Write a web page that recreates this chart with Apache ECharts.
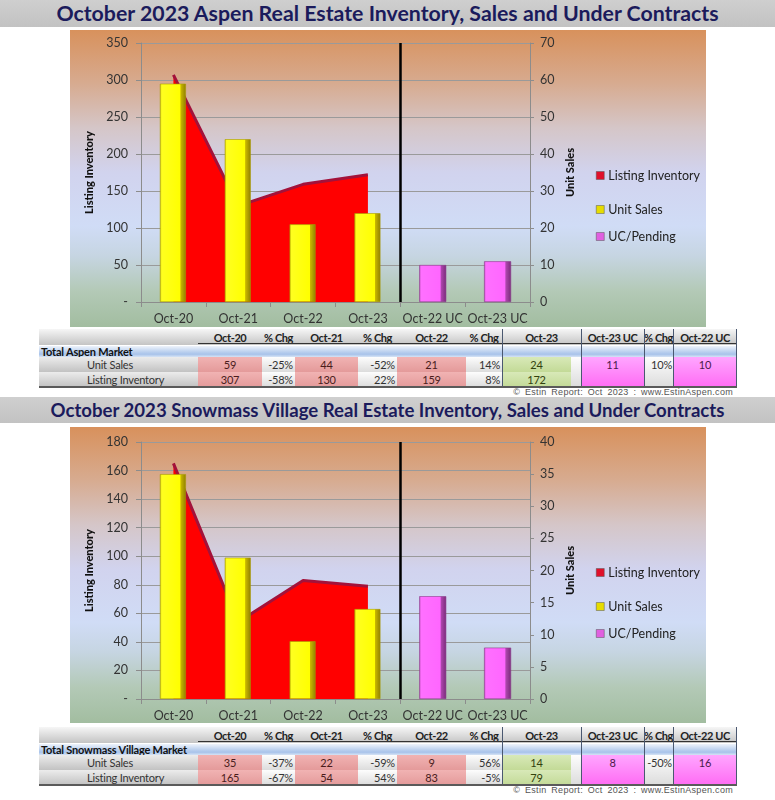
<!DOCTYPE html>
<html><head><meta charset="utf-8">
<script src="https://cdn.jsdelivr.net/npm/echarts/dist/echarts.min.js"></script>
<style>
body{margin:0;background:#fff;width:775px;height:800px;position:relative;overflow:hidden;font-family:Lato,'Open Sans',sans-serif;}
.banner{position:absolute;left:0;width:775px;background:linear-gradient(#cfcfcf,#c2c2c2);color:#1b1b5c;font-weight:bold;text-align:center;white-space:nowrap;}
.chartbox{position:absolute;left:70px;width:636px;background:linear-gradient(to bottom,#d8915c 0%,#d7ab90 18%,#d5c6c8 33%,#d1d3ee 48%,#d0dcf6 66%,#c6d5e2 76%,#b3c9b6 88%,#a2bda0 100%);}
.cell{position:absolute;box-sizing:border-box;font-size:11px;letter-spacing:-0.2px;color:#2a2a2a;line-height:1;display:flex;align-items:center;white-space:nowrap;}
.copy{position:absolute;right:42px;font-size:9px;color:#555;font-family:'Liberation Sans',sans-serif;letter-spacing:0.3px;word-spacing:2px;}
</style></head>
<body>
<div class="banner" style="top:0;height:27px;line-height:27px;font-size:21.3px;">October 2023 Aspen Real Estate Inventory, Sales and Under Contracts</div>
<div id="c1" class="chartbox" style="top:30px;height:297px;"></div>
<div id="t1"></div>
<div class="copy" style="top:387px;">© Estin Report:  Oct  2023 : www.EstinAspen.com</div>
<div class="banner" style="top:397px;height:26px;line-height:27px;font-size:18.6px;">October 2023 Snowmass Village Real Estate Inventory, Sales and Under Contracts</div>
<div id="c2" class="chartbox" style="top:427px;height:296px;"></div>
<div id="t2"></div>
<div class="copy" style="top:785px;">© Estin Report:  Oct  2023 : www.EstinAspen.com</div>
<script>
// ---------- data ----------
const categories = ['Oct-20','Oct-21','Oct-22','Oct-23','Oct-22 UC','Oct-23 UC'];

const aspenInventory = [307,130,159,172,null,null];
const aspenSales     = [59,44,21,24,null,null];
const aspenPending   = [null,null,null,null,10,11];
const aspenSalesChg  = ['-25%','-52%','14%'];
const aspenInvChg    = ['-58%','22%','8%'];
const aspenUcChg     = '10%';

const snowInventory  = [165,54,83,79,null,null];
const snowSales      = [35,22,9,14,null,null];
const snowPending    = [null,null,null,null,16,8];
const snowSalesChg   = ['-37%','-59%','56%'];
const snowInvChg     = ['-67%','54%','-5%'];
const snowUcChg      = '-50%';

const tableHeaders = ['Oct-20','% Chg','Oct-21','% Chg','Oct-22','% Chg','Oct-23','Oct-23 UC','% Chg','Oct-22 UC'];
const aspenAxis = {leftMax:350,leftStep:50,rightMax:70,rightStep:10};
const snowAxis  = {leftMax:180,leftStep:20,rightMax:40,rightStep:5};

// ---------- chart ----------
const yellowGrad = new echarts.graphic.LinearGradient(0,0,1,0,[
  {offset:0,color:'#cfc600'},{offset:0.07,color:'#ffff20'},{offset:0.78,color:'#ffff00'},
  {offset:0.80,color:'#c9b800'},{offset:1,color:'#8f7f00'}]);
const magentaGrad = new echarts.graphic.LinearGradient(0,0,1,0,[
  {offset:0,color:'#c050c0'},{offset:0.07,color:'#ff70ff'},{offset:0.78,color:'#ff66ff'},
  {offset:0.80,color:'#b048b0'},{offset:1,color:'#7a2a7a'}]);
const axCol = '#8c8c8c';
const font = 'Lato';

function makeOption(inv, sales, pend, ax, gridTop, gridBottom){
  const divider = categories.indexOf('Oct-22 UC');
  const legTops = [139,173,200];
  const legNames = [['Listing Inventory','#e0102a'],['Unit Sales','#e6dc00'],['UC/Pending','#e060e0']];
  return {
    animation:false,
    textStyle:{fontFamily:font},
    grid:{left:71,right:176,top:gridTop,bottom:gridBottom,containLabel:false,outerBoundsMode:'none'},
    xAxis:[
      {type:'category',data:categories,boundaryGap:true,
       axisLine:{lineStyle:{color:axCol,width:1}},
       axisTick:{show:true,length:5,lineStyle:{color:axCol}},
       axisLabel:{color:'#333',fontSize:12.5,margin:10,interval:0,fontFamily:font},
       splitLine:{show:false}},
      {type:'value',min:0,max:categories.length,show:false}
    ],
    yAxis:[
      {type:'value',min:0,max:ax.leftMax,interval:ax.leftStep,position:'left',
       name:'Listing Inventory',nameLocation:'middle',nameGap:42,
       nameTextStyle:{fontWeight:900,fontSize:11,color:'#111',fontFamily:font},
       axisLine:{show:true,lineStyle:{color:axCol}},
       axisTick:{show:true,length:5,lineStyle:{color:axCol}},
       axisLabel:{color:'#333',fontSize:12.5,margin:13,fontFamily:font,formatter:v=>v===0?'-':String(v)},
       splitLine:{show:true,lineStyle:{color:'#9a9a9a',width:1}}},
      {type:'value',min:0,max:ax.rightMax,interval:ax.rightStep,position:'right',
       name:'Unit Sales',nameLocation:'middle',nameGap:31,
       nameTextStyle:{fontWeight:900,fontSize:11,color:'#111',fontFamily:font},
       axisLine:{show:true,lineStyle:{color:axCol}},
       axisTick:{show:true,length:4,lineStyle:{color:axCol}},
       axisLabel:{color:'#333',fontSize:12.5,margin:10,fontFamily:font},
       splitLine:{show:false}}
    ],
    legend: legNames.map((n,i)=>({
      data:[{name:n[0],itemStyle:{color:n[1],borderColor:'#555',borderWidth:0.5}}],
      left:526,top:legTops[i],orient:'vertical',padding:0,icon:'rect',
      itemWidth:8,itemHeight:8,itemGap:5,selectedMode:false,
      textStyle:{fontSize:12.5,color:'#222',fontFamily:font,padding:[0,0,0,-1]}
    })),
    series:[
      {name:'Listing Inventory',type:'line',yAxisIndex:0,data:inv,symbol:'none',z:1,
       lineStyle:{color:'#a3123a',width:3},areaStyle:{color:'#ff0000',opacity:1}},
      {name:'Unit Sales',type:'bar',yAxisIndex:1,data:sales,barWidth:26,barGap:'-100%',z:3,
       itemStyle:{color:yellowGrad,borderColor:'#a89a00',borderWidth:0.6}},
      {name:'UC/Pending',type:'bar',yAxisIndex:1,data:pend,barWidth:27,z:3,
       itemStyle:{color:magentaGrad,borderColor:'#8a3a8a',borderWidth:0.6}},
      {type:'line',xAxisIndex:1,yAxisIndex:0,data:[],z:5,
       markLine:{silent:true,symbol:'none',label:{show:false},
         lineStyle:{color:'#000',width:2.5,type:'solid'},data:[{xAxis:divider}]}}
    ]
  };
}

const ch1 = echarts.init(document.getElementById('c1'),null,{renderer:'canvas'});
ch1.setOption(makeOption(aspenInventory,aspenSales,aspenPending,aspenAxis,13,25));
const ch2 = echarts.init(document.getElementById('c2'),null,{renderer:'canvas'});
ch2.setOption(makeOption(snowInventory,snowSales,snowPending,snowAxis,15,24));

// ---------- tables ----------
const colX = [198,262,295,358,397,466,502,581,644,673,737];
const colType = ['pink','chg','pink','chg','pink','chg','green','uc','chg','uc'];
const BG = {
  head:'linear-gradient(#f6f6f6,#c4c4c4)',
  label:'linear-gradient(#ececec,#c2c2c2)',
  chg:'linear-gradient(#fdfdfd,#dcdcdc)',
  pink:'linear-gradient(#f1b3b3,#e49a9a)',
  green:'linear-gradient(#d8e9b8,#c3da97)',
  uc:'linear-gradient(#ffa6ff,#ff6cf4)',
  blue:'linear-gradient(#eef3fb 0%,#b9cfee 55%,#a8c3ea 75%,#d6e3f5 100%)'
};
function cell(parent,x,y,w,h,bg,text,opts){
  const d=document.createElement('div');
  d.className='cell';
  d.style.left=x+'px';d.style.top=y+'px';d.style.width=w+'px';d.style.height=h+'px';
  if(bg) d.style.background=bg;
  opts=opts||{};
  d.style.justifyContent=opts.align||'center';
  if(opts.pad) d.style.padding=opts.pad;
  if(opts.bold) d.style.fontWeight='bold';
  if(opts.color) d.style.color=opts.color;
  if(opts.extra) Object.assign(d.style,opts.extra);
  d.textContent=text==null?'':String(text);
  parent.appendChild(d);
  return d;
}
function buildTable(id,top,title,sales,inv,salesChg,invChg,pend,ucChg){
  const p=document.getElementById(id);
  const L=39,R=737;
  const yH=top, hH=16, yB=top+17, hB=11, yS=top+28, hS=15, yI=top+43, hI=15, yEnd=top+58;
  // header
  cell(p,L,yH,R-L,hH,BG.head,'');
  tableHeaders.forEach((h,i)=>cell(p,colX[i],yH,colX[i+1]-colX[i],hH,null,h,{bold:true,color:'#222',extra:{letterSpacing:'-0.4px'}}));
  cell(p,colX[0],yH+hH-2,R-colX[0],1,'#333','');
  // blue title row
  cell(p,L,yB,R-L,hB,BG.blue,title,{align:'flex-start',pad:'0 0 0 2px',bold:true,color:'#111'});
  // label column
  cell(p,L,yS,colX[0]-L,hS,BG.label,'Unit Sales',{align:'flex-start',pad:'0 0 0 48px',color:'#333'});
  cell(p,L,yI,colX[0]-L,hI,BG.label,'Listing Inventory',{align:'flex-start',pad:'0 0 0 48px',color:'#333'});
  const salesRow=[sales[0],salesChg[0],sales[1],salesChg[1],sales[2],salesChg[2],sales[3]];
  const invRow=[inv[0],invChg[0],inv[1],invChg[1],inv[2],invChg[2],inv[3]];
  const txtCol={pink:'#4a1c1c',green:'#33420e',chg:'#333'};
  for(let i=0;i<7;i++){
    const t=colType[i];
    let x=colX[i], w=colX[i+1]-colX[i];
    if(t==='green'){
      cell(p,x,yS,w,hS+hI,BG.chg,'');
      w=69;
    }
    const al=t==='chg'?'flex-end':'center';
    const pad=t==='chg'?'0 2px 0 0':null;
    cell(p,x,yS,w,hS,BG[t],salesRow[i],{align:al,pad:pad,color:txtCol[t]});
    cell(p,x,yI,w,hI,BG[t],invRow[i],{align:al,pad:pad,color:txtCol[t]});
  }
  // UC columns spanning both rows
  const ucVals=[pend[categories.indexOf('Oct-23 UC')],ucChg,pend[categories.indexOf('Oct-22 UC')]];
  for(let k=0;k<3;k++){
    const i=7+k, t=colType[i];
    const x=colX[i], w=colX[i+1]-colX[i];
    cell(p,x,yS,w,hS+hI,BG[t],'',{});
    cell(p,x,yS,w,hS,null,ucVals[k],{align:t==='chg'?'flex-end':'center',pad:t==='chg'?'0 1px 0 0':null,color:t==='uc'?'#4a1a4a':'#333'});
  }
  // vertical separators
  [502,581,644,673,736].forEach(x=>cell(p,x,yH,1,yEnd-yH,'#4a5870',''));
  // bottom border
  cell(p,L,yEnd-1,R-L,2,'#5a5a5a','');
}
buildTable('t1',329,'Total Aspen Market',aspenSales,aspenInventory,aspenSalesChg,aspenInvChg,aspenPending,aspenUcChg);
buildTable('t2',727,'Total Snowmass Village Market',snowSales,snowInventory,snowSalesChg,snowInvChg,snowPending,snowUcChg);
</script>
</body></html>
